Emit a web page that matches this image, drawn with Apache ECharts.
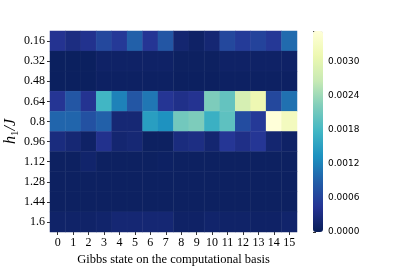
<!DOCTYPE html>
<html><head><meta charset="utf-8">
<script src="https://cdn.jsdelivr.net/npm/echarts@6/dist/echarts.min.js"></script>
<style>html,body{margin:0;padding:0;background:#fff}#c{width:399px;height:266px}</style>
</head><body><div id="c"></div>
<script>
const states = ['0','1','2','3','4','5','6','7','8','9','10','11','12','13','14','15'];
const hLabels = ['0.16','0.32','0.48','0.64','0.8','0.96','1.12','1.28','1.44','1.6'];
const row016 = [0.00042,0.00030,0.00040,0.00065,0.00050,0.00090,0.00045,0.00080,0.00018,0.00010,0.00020,0.00065,0.00052,0.00060,0.00048,0.00100];
const row032 = [0.00005,0.00005,0.00005,0.00010,0.00010,0.00010,0.00010,0.00010,0.00007,0.00007,0.00007,0.00010,0.00010,0.00010,0.00010,0.00010];
const row048 = [0.00005,0.00005,0.00005,0.00008,0.00008,0.00008,0.00008,0.00008,0.00006,0.00006,0.00006,0.00008,0.00008,0.00008,0.00008,0.00008];
const row064 = [0.00045,0.00080,0.00042,0.00177,0.00120,0.00080,0.00110,0.00045,0.00036,0.00042,0.00220,0.00202,0.00283,0.00312,0.00065,0.00105];
const row080 = [0.00095,0.00095,0.00075,0.00090,0.00021,0.00021,0.00148,0.00134,0.00212,0.00220,0.00170,0.00198,0.00070,0.00050,0.00354,0.00325];
const row096 = [0.00028,0.00021,0.00010,0.00039,0.00018,0.00021,0.00007,0.00007,0.00028,0.00032,0.00018,0.00046,0.00035,0.00046,0.00018,0.00010];
const row112 = [0.00007,0.00007,0.00014,0.00007,0.00007,0.00007,0.00007,0.00008,0.00007,0.00007,0.00007,0.00007,0.00007,0.00007,0.00007,0.00007];
const row128 = [0.00007,0.00007,0.00007,0.00007,0.00007,0.00007,0.00007,0.00007,0.00007,0.00007,0.00007,0.00007,0.00007,0.00007,0.00007,0.00007];
const row144 = [0.00007,0.00007,0.00007,0.00007,0.00007,0.00007,0.00007,0.00007,0.00007,0.00007,0.00007,0.00007,0.00007,0.00007,0.00007,0.00007];
const row160 = [0.00012,0.00012,0.00012,0.00014,0.00020,0.00020,0.00020,0.00020,0.00010,0.00010,0.00014,0.00012,0.00012,0.00010,0.00010,0.00014];
const rows = [row016,row032,row048,row064,row080,row096,row112,row128,row144,row160];
const cbTicks = [0,0.0006,0.0012,0.0018,0.0024,0.0030];
const vmin = 0, vmax = 0.00354;

const data = [];
rows.forEach((r, yi) => r.forEach((v, xi) => data.push([xi, yi, v])));

const serif = '"Liberation Serif","DejaVu Serif",serif';
const chart = echarts.init(document.getElementById('c'), null, {renderer:'canvas'});
chart.setOption({
  animation:false,
  backgroundColor:'#fff',
  grid:[
    {left:50, right:102, top:31, bottom:34, containLabel:false, outerBoundsMode:'none'},
    {left:313, width:10, top:31, bottom:34, containLabel:false, outerBoundsMode:'none'}
  ],
  xAxis:[
    {type:'category', data:states, gridIndex:0,
     axisLine:{show:false}, axisTick:{show:true, length:3, alignWithLabel:true, interval:0, lineStyle:{color:'#333'}},
     axisLabel:{color:'#000', fontFamily:serif, fontSize:12, margin:5, interval:0},
     name:'Gibbs state on the computational basis', nameLocation:'middle', nameGap:21, nameMoveOverlap:false,
     nameTextStyle:{color:'#000', fontFamily:serif, fontSize:12.5}},
    {type:'value', gridIndex:1, show:false}
  ],
  yAxis:[
    {type:'category', data:hLabels, inverse:true, gridIndex:0,
     axisLine:{show:false}, axisTick:{show:true, length:3, alignWithLabel:true, interval:0, lineStyle:{color:'#333'}},
     axisLabel:{color:'#000', fontFamily:serif, fontSize:12, margin:5, interval:0},
     name:'{i|h}{s|1}{i|/J}', nameLocation:'middle', nameGap:29, nameRotate:90, nameMoveOverlap:false,
     nameTextStyle:{verticalAlign:'bottom', lineHeight:20, padding:[0,0,0,0], rich:{
       i:{fontFamily:serif, fontStyle:'italic', fontSize:16, color:'#000', lineHeight:20},
       s:{fontFamily:serif, fontSize:11, color:'#000', lineHeight:9, verticalAlign:'bottom'}
     }}},
    {type:'value', gridIndex:1, min:vmin, max:vmax, interval:0.0006, position:'right',
     axisLine:{show:false}, splitLine:{show:false},
     axisTick:{show:true, length:3, lineStyle:{color:'#333'}},
     axisLabel:{color:'#000', fontFamily:'"DejaVu Sans",sans-serif', fontSize:9, margin:5,
       formatter:v => (cbTicks.some(t=>Math.abs(t-v)<1e-9) ? v.toFixed(4) : '')}}
  ],
  visualMap:{
    type:'continuous', min:vmin, max:vmax, calculable:false, realtime:false, hoverLink:false,
    orient:'vertical', left:313, top:31, itemWidth:10, itemHeight:201, padding:0,
    showLabel:false, seriesIndex:0,
    indicatorSize:0, indicatorIcon:'none', indicatorStyle:{opacity:0},
    inRange:{color:['#081d58','#253494','#225ea8','#1d91c0','#41b6c4','#7fcdbb','#c7e9b4','#edf8b1','#ffffd9']}
  },
  series:[{
    type:'heatmap', xAxisIndex:0, yAxisIndex:0, data:data,
    itemStyle:{borderWidth:0.4, borderColor:'rgba(255,255,255,0.08)'},
    emphasis:{disabled:true}
  }]
});
</script></body></html>
